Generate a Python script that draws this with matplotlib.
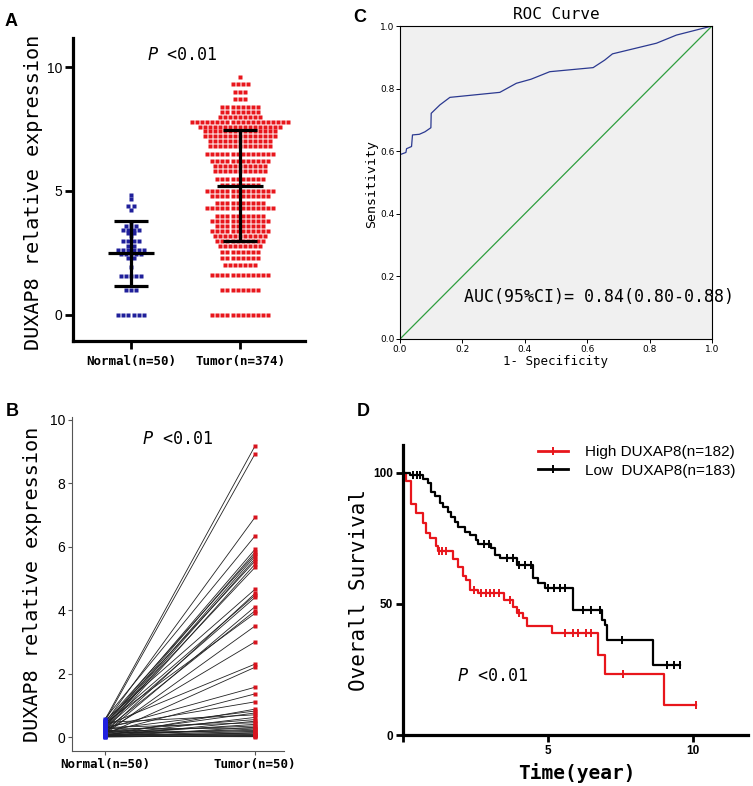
import numpy as np
import matplotlib.pyplot as plt
from matplotlib.lines import Line2D

W, H = 753, 786
MONO = 'DejaVu Sans Mono'
SANS = 'Liberation Sans'

# ---- panel A: dot plot (value levels and number of dots per level)
normal_levels = [0.0, 1.0, 1.57, 1.95, 2.3, 2.46, 2.6, 2.78, 3.0, 3.19, 3.32,
                 3.43, 3.59, 3.76, 4.25, 4.4, 4.66, 4.84]
normal_counts = [6, 3, 5, 1, 2, 5, 6, 2, 4, 1, 2, 4, 3, 1, 1, 2, 1, 1]
tumor_levels = [0.0, 1.0, 1.6, 2.0, 2.3, 2.55, 2.78, 3.0, 3.2, 3.4, 3.6, 3.8,
                4.0, 4.3, 4.5, 4.8, 5.0, 5.25, 5.5, 5.8, 6.0, 6.2, 6.5, 6.8,
                7.0, 7.2, 7.4, 7.6, 7.8, 8.0, 8.2, 8.4, 8.7, 9.0, 9.3, 9.6]
tumor_counts = [12, 8, 12, 7, 8, 8, 9, 10, 11, 12, 10, 12, 10, 14, 10, 12, 14,
                8, 10, 11, 11, 12, 14, 13, 13, 15, 15, 17, 20, 9, 8, 8, 3, 3,
                4, 1]
normal_stats = (2.5, 1.15, 3.78)   # mean, mean-SD, mean+SD
tumor_stats = (5.22, 3.0, 7.46)
a_labels = ['Normal(n=50)', 'Tumor(n=374)']

# ---- panel B: paired samples
pair_normal = [0.55, 0.50, 0.45, 0.58, 0.40, 0.35, 0.48, 0.30, 0.25, 0.42,
               0.20, 0.33, 0.52, 0.15, 0.38, 0.28, 0.12, 0.22, 0.44, 0.10,
               0.18, 0.36, 0.08, 0.27, 0.14, 0.32, 0.05, 0.24, 0.11, 0.46,
               0.06, 0.19, 0.03, 0.30, 0.09, 0.16, 0.02, 0.26, 0.07, 0.13,
               0.04, 0.21, 0.01, 0.17, 0.05, 0.10, 0.00, 0.08, 0.03, 0.02]
pair_tumor = [9.18, 8.93, 6.93, 6.34, 5.92, 5.83, 5.76, 5.70, 5.62, 5.55,
              5.45, 5.35, 4.66, 4.53, 4.47, 4.40, 4.11, 3.98, 3.90, 3.50,
              3.00, 2.30, 2.20, 1.57, 1.36, 1.11, 0.88, 0.82, 0.76, 0.70,
              0.62, 0.55, 0.50, 0.45, 0.40, 0.35, 0.31, 0.28, 0.25, 0.21,
              0.18, 0.15, 0.13, 0.10, 0.08, 0.06, 0.05, 0.03, 0.02, 0.01]
b_labels = ['Normal(n=50)', 'Tumor(n=50)']

# ---- panel C: ROC curve
fpr = [0, 0.019, 0.021, 0.037, 0.040, 0.062, 0.080, 0.099, 0.100, 0.128,
       0.160, 0.320, 0.373, 0.420, 0.480, 0.619, 0.656, 0.681, 0.822, 0.886, 1.0]
tpr = [0.589, 0.596, 0.608, 0.615, 0.652, 0.654, 0.662, 0.675, 0.721, 0.748,
       0.772, 0.788, 0.817, 0.830, 0.854, 0.867, 0.891, 0.911, 0.945, 0.971, 1.0]
auc_text = 'AUC(95%CI)= 0.84(0.80-0.88)'

# ---- panel D: Kaplan-Meier
high_t = [0, 0.12, 0.29, 0.46, 0.69, 0.81, 0.92, 1.15, 1.21, 1.73, 1.90, 2.07,
          2.19, 2.30, 2.60, 3.50, 3.80, 3.92, 4.15, 4.26, 5.13, 6.74, 6.97, 8.99]
high_s = [100, 97, 88, 84.5, 80.7, 77, 75, 72, 70, 67, 64, 60.5, 59, 55.3, 54,
          51.5, 49, 46.5, 44.5, 41.5, 39, 30.5, 23.3, 11.5]
high_end = 10.1
high_cens = [1.25, 1.35, 1.5, 2.45, 2.7, 2.85, 3.0, 3.15, 3.3, 3.7, 4.0, 5.6,
             5.85, 6.05, 6.3, 6.5, 7.6, 10.1]
low_t = [0, 0.25, 0.69, 0.86, 0.98, 1.09, 1.27, 1.38, 1.56, 1.67, 1.79, 1.90,
         2.13, 2.30, 2.53, 2.59, 3.05, 3.17, 3.34, 3.92, 4.49, 4.67, 4.90,
         5.88, 6.85, 6.97, 7.03, 8.62]
low_s = [100, 99, 97.8, 96, 92.8, 91, 88.3, 87, 85, 83, 81.3, 79.4, 77.5, 76.2,
         74.3, 73, 71.2, 68.6, 67.4, 64.8, 59.7, 57.8, 56, 47.6, 43.8, 42,
         36.2, 26.7]
low_end = 9.56
low_cens = [0.35, 0.5, 0.6, 2.8, 2.95, 3.6, 3.8, 4.0, 4.2, 4.4, 5.0, 5.2, 5.4,
            5.6, 6.2, 6.5, 6.8, 7.55, 9.1, 9.35, 9.56]
km_labels = ['High DUXAP8(n=182)', 'Low  DUXAP8(n=183)']

RED = '#e8161c'
NAVY = '#1f1f9a'


def px_axes(fig, left, top, right, bottom):
    return fig.add_axes([left / W, 1 - bottom / H,
                         (right - left) / W, (bottom - top) / H])


def swarm(levels, counts, center, dx):
    xs, ys = [], []
    for lv, n in zip(levels, counts):
        xs.extend(center + (np.arange(n) - (n - 1) / 2) * dx)
        ys.extend([lv] * n)
    return np.array(xs), np.array(ys)


def p_label(ax, x, y, size):
    t = ax.text(x, y, 'P', transform=ax.transAxes, fontsize=size,
                style='italic', family='DejaVu Sans', ha='left', va='center')
    ax.annotate(' <0.01', xy=(1, 0.5), xycoords=t, ha='left', va='center',
                fontsize=size, family=MONO)


def step_value(times, surv, c):
    idx = np.searchsorted(times, c, side='right') - 1
    return np.asarray(surv)[idx]


fig = plt.figure(figsize=(W / 100, H / 100), dpi=100)

# ---------------- A
ax = px_axes(fig, 73, 38, 305, 341)
for i, (lv, ct, col) in enumerate([(normal_levels, normal_counts, NAVY),
                                   (tumor_levels, tumor_counts, RED)]):
    xs, ys = swarm(lv, ct, i + 1, 0.046)
    ax.plot(xs, ys, 's', ms=3.0, color=col, mec='none')
for i, (m, lo, hi) in enumerate([normal_stats, tumor_stats]):
    c = i + 1
    ax.hlines(m, c - 0.21, c + 0.21, color='black', lw=2.3)
    ax.vlines(c, lo, hi, color='black', lw=2.3)
    ax.hlines([lo, hi], c - 0.16, c + 0.16, color='black', lw=2.3)
ax.set_xlim(0.468, 2.596)
ax.set_ylim(-1.05, 11.17)
for s in ['top', 'right']:
    ax.spines[s].set_visible(False)
for s in ['left', 'bottom']:
    ax.spines[s].set_linewidth(2.3)
ax.set_yticks([0, 5, 10])
ax.set_xticks([1, 2])
ax.set_xticklabels(a_labels, family=MONO, fontweight='bold', fontsize=9)
ax.tick_params(axis='y', length=6, width=2, labelsize=10, pad=2)
ax.tick_params(axis='x', length=6, width=2, pad=4)
for lab in ax.get_yticklabels():
    lab.set_family(SANS)
ax.set_ylabel('DUXAP8 relative expression', family=MONO, fontsize=14.5)
ax.yaxis.set_label_coords(-0.129, 0.49)
p_label(ax, 0.32, 0.944, 12)

# ---------------- B
ax = px_axes(fig, 72, 417, 284, 751)
for n, t in zip(pair_normal, pair_tumor):
    ax.plot([1, 2], [n, t], color='#222222', lw=0.6)
ax.plot(np.ones(len(pair_normal)), pair_normal, 's', ms=3.2, color='#2020e0',
        mec='none')
ax.plot(np.full(len(pair_tumor), 2), pair_tumor, 's', ms=3.2, color='#d8141e',
        mec='none')
ax.set_xlim(0.78, 2.193)
ax.set_ylim(-0.44, 10.09)
for s in ['top', 'right']:
    ax.spines[s].set_visible(False)
for s in ['left', 'bottom']:
    ax.spines[s].set_linewidth(0.8)
    ax.spines[s].set_color('#555555')
ax.set_yticks(np.arange(0, 11, 2))
ax.set_xticks([1, 2])
ax.set_xticklabels(b_labels, family=MONO, fontweight='bold', fontsize=9)
ax.tick_params(axis='both', length=3, width=0.8, color='#555555', pad=2)
ax.tick_params(axis='y', labelsize=10)
for lab in ax.get_yticklabels():
    lab.set_family(SANS)
ax.set_ylabel('DUXAP8 relative expression', family=MONO, fontsize=14.5)
ax.yaxis.set_label_coords(-0.142, 0.5)
p_label(ax, 0.335, 0.934, 12)

# ---------------- C
ax = px_axes(fig, 400, 26, 712, 339)
ax.set_facecolor('#f0f0f0')
ax.plot([0, 1], [0, 1], color='#2e9e3e', lw=0.9)
ax.plot(fpr, tpr, color='#2b3990', lw=0.9)
ax.set_xlim(0, 1)
ax.set_ylim(0, 1)
ticks = np.arange(0, 1.01, 0.2)
ax.set_xticks(ticks)
ax.set_yticks(ticks)
ax.set_xticklabels(['%.1f' % v for v in ticks])
ax.set_yticklabels(['%.1f' % v for v in ticks])
for s in ax.spines.values():
    s.set_linewidth(0.8)
ax.tick_params(axis='both', length=3, width=0.7, labelsize=6.5, pad=1)
ax.set_title('ROC Curve', family=MONO, fontsize=11.5, pad=5)
ax.text(0.205, 0.134, auc_text, family=MONO, fontsize=12, ha='left',
        va='center')
ax.set_ylabel('Sensitivity', family=MONO, fontsize=9.5)
ax.yaxis.set_label_coords(-0.07, 0.495)
ax.set_xlabel('1- Specificity', family=MONO, fontsize=9)
ax.xaxis.set_label_coords(0.497, -0.05)

# ---------------- D
ax = px_axes(fig, 403, 445, 748, 735)
for t, s, end, cens, col in [(high_t, high_s, high_end, high_cens, RED),
                             (low_t, low_s, low_end, low_cens, 'black')]:
    ax.step(np.append(t, end), np.append(s, s[-1]), where='post', color=col,
            lw=1.6)
    ax.plot(cens, step_value(t, s, cens), '|', color=col, ms=6, mew=1.4)
ax.set_xlim(0, 11.9)
ax.set_ylim(0, 110.6)
for s in ['top', 'right']:
    ax.spines[s].set_visible(False)
for s in ['left', 'bottom']:
    ax.spines[s].set_linewidth(2.3)
ax.set_xticks([0, 5, 10])
ax.set_xticklabels(['', '5', '10'])
ax.set_yticks([0, 50, 100])
ax.tick_params(axis='both', length=5, width=2, labelsize=8.5, pad=2)
for lab in ax.get_xticklabels() + ax.get_yticklabels():
    lab.set_family(SANS)
    lab.set_fontweight('bold')
ax.set_ylabel('Overall Survival', family=MONO, fontsize=15)
ax.yaxis.set_label_coords(-0.099, 0.5)
ax.set_xlabel('Time(year)', family=MONO, fontsize=14, fontweight='bold')
ax.xaxis.set_label_coords(0.504, -0.095)
handles = [Line2D([], [], color=RED, lw=2, marker='|', ms=6, mew=1.4),
           Line2D([], [], color='black', lw=2, marker='|', ms=6, mew=1.4)]
ax.legend(handles, km_labels, loc='upper left', bbox_to_anchor=(0.39, 1.0),
          frameon=False, numpoints=1, handlelength=2.0, handletextpad=1.1,
          labelspacing=0.3, borderaxespad=0, borderpad=0,
          prop={'family': SANS, 'size': 11})
p_label(ax, 0.159, 0.203, 12)

# panel letters
for letter, x, y in [('A', 5, 21), ('B', 6, 411), ('C', 353, 18), ('D', 357, 411)]:
    fig.text(x / W, 1 - y / H, letter, family=SANS, fontweight='bold',
             fontsize=13, ha='left', va='center')

fig.savefig('out.png', dpi=100)
